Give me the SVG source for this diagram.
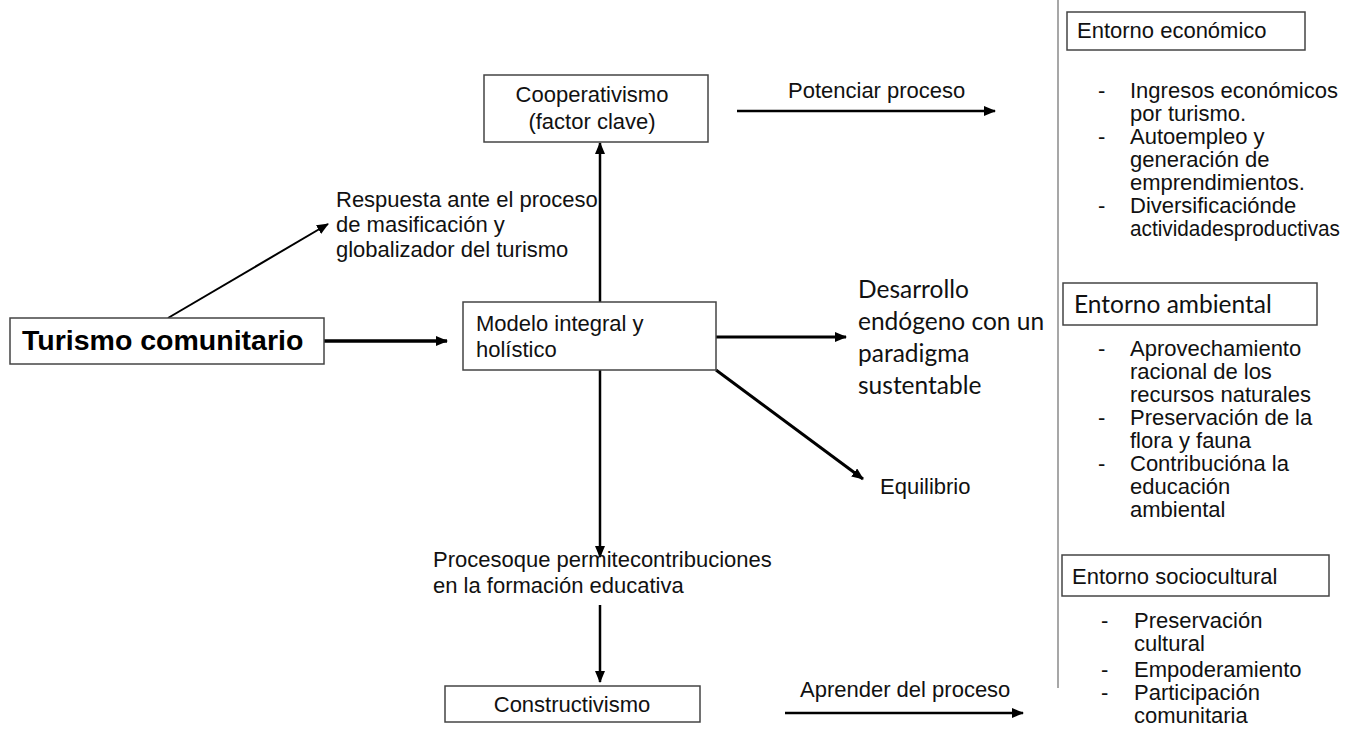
<svg xmlns="http://www.w3.org/2000/svg" width="1357" height="734" viewBox="0 0 1357 734">
<style>
.t{font-family:"Liberation Sans",Arial,sans-serif;font-size:22px;fill:#111}
.c{font-family:Lato,"Open Sans",sans-serif;font-size:24.5px;fill:#111}
.box{fill:#fff;stroke:#444;stroke-width:1.5}
.ln{stroke:#000;stroke-width:2.5;fill:none}
</style>
<defs>
<marker id="ah" markerUnits="userSpaceOnUse" markerWidth="12" markerHeight="10" refX="11" refY="5" orient="auto">
<path d="M0,0 L12,5 L0,10 Z" fill="#000"/>
</marker>
</defs>
<g id="connectors">
<line class="ln" x1="324" y1="341" x2="447" y2="341" style="stroke-width:3.5" marker-end="url(#ah)"/>
<line class="ln" x1="168" y1="318" x2="328" y2="224" style="stroke-width:2" marker-end="url(#ah)"/>
<line class="ln" x1="600" y1="302" x2="600" y2="143" marker-end="url(#ah)"/>
<line class="ln" x1="737" y1="111" x2="995" y2="111" marker-end="url(#ah)"/>
<line class="ln" x1="716" y1="337" x2="846" y2="337" style="stroke-width:3" marker-end="url(#ah)"/>
<line class="ln" x1="716" y1="370" x2="863" y2="479" style="stroke-width:3" marker-end="url(#ah)"/>
<line class="ln" x1="600" y1="370" x2="600" y2="557" marker-end="url(#ah)"/>
<line class="ln" x1="600" y1="605" x2="600" y2="682" marker-end="url(#ah)"/>
<line class="ln" x1="785" y1="713" x2="1023" y2="713" marker-end="url(#ah)"/>
<line x1="1058" y1="0" x2="1058" y2="688" stroke="#8a8a8a" stroke-width="1.5"/>
</g>
<g id="turismo">
<rect class="box" x="10" y="318" width="314" height="46"/>
<text x="22" y="350" style="font-family:'Liberation Sans',Arial,sans-serif;font-size:28.5px;font-weight:bold;fill:#000">Turismo comunitario</text>
</g>
<g id="respuesta">
<text class="t"><tspan x="336" y="207">Respuesta ante el proceso</tspan><tspan x="336" y="232">de masificación y</tspan><tspan x="336" y="257">globalizador del turismo</tspan></text>
</g>
<g id="cooperativismo">
<rect class="box" x="484" y="75" width="224" height="67"/>
<text class="t" text-anchor="middle"><tspan x="592" y="102">Cooperativismo</tspan><tspan x="592" y="129">(factor clave)</tspan></text>
</g>
<g id="potenciar">
<text class="t" x="788" y="98">Potenciar proceso</text>
</g>
<g id="modelo">
<rect class="box" x="463" y="302" width="253" height="68"/>
<text class="t"><tspan x="476" y="331">Modelo integral y</tspan><tspan x="476" y="357">holístico</tspan></text>
</g>
<g id="desarrollo">
<text class="c"><tspan x="858" y="298">Desarrollo</tspan><tspan x="858" y="330">endógeno con un</tspan><tspan x="858" y="362">paradigma</tspan><tspan x="858" y="394">sustentable</tspan></text>
</g>
<g id="equilibrio">
<text class="t" x="880" y="494">Equilibrio</text>
</g>
<g id="proceso">
<text class="t"><tspan x="433" y="567">Procesoque permitecontribuciones</tspan><tspan x="433" y="593">en la formación educativa</tspan></text>
</g>
<g id="constructivismo">
<rect class="box" x="445" y="686" width="255" height="36"/>
<text class="t" x="572" y="712" text-anchor="middle">Constructivismo</text>
</g>
<g id="aprender">
<text class="t" x="800" y="697">Aprender del proceso</text>
</g>
<g id="economico">
<rect class="box" x="1067" y="12" width="238" height="38"/>
<text class="t" x="1077" y="38">Entorno económico</text>
<text class="t"><tspan x="1098" y="98">-</tspan><tspan x="1130" y="98">Ingresos económicos</tspan><tspan x="1130" y="121">por turismo.</tspan><tspan x="1098" y="144">-</tspan><tspan x="1130" y="144">Autoempleo y</tspan><tspan x="1130" y="167">generación de</tspan><tspan x="1130" y="190">emprendimientos.</tspan><tspan x="1098" y="213">-</tspan><tspan x="1130" y="213">Diversificaciónde</tspan></text>
<text class="t" x="1130" y="236" textLength="210" lengthAdjust="spacingAndGlyphs">actividadesproductivas</text>
</g>
<g id="ambiental">
<rect class="box" x="1063" y="283" width="254" height="42"/>
<text class="c" x="1074" y="313">Entorno ambiental</text>
<text class="t"><tspan x="1098" y="356">-</tspan><tspan x="1130" y="356">Aprovechamiento</tspan><tspan x="1130" y="379">racional de los</tspan><tspan x="1130" y="402">recursos naturales</tspan><tspan x="1098" y="425">-</tspan><tspan x="1130" y="425">Preservación de la</tspan><tspan x="1130" y="448">flora y fauna</tspan><tspan x="1098" y="471">-</tspan><tspan x="1130" y="471">Contribucióna la</tspan><tspan x="1130" y="494">educación</tspan><tspan x="1130" y="517">ambiental</tspan></text>
</g>
<g id="sociocultural">
<rect class="box" x="1062" y="555" width="267" height="41"/>
<text class="t" x="1072" y="584">Entorno sociocultural</text>
<text class="t"><tspan x="1101" y="628">-</tspan><tspan x="1134" y="628">Preservación</tspan><tspan x="1134" y="651">cultural</tspan><tspan x="1101" y="677">-</tspan><tspan x="1134" y="677">Empoderamiento</tspan><tspan x="1101" y="700">-</tspan><tspan x="1134" y="700">Participación</tspan><tspan x="1134" y="723">comunitaria</tspan></text>
</g>
</svg>
